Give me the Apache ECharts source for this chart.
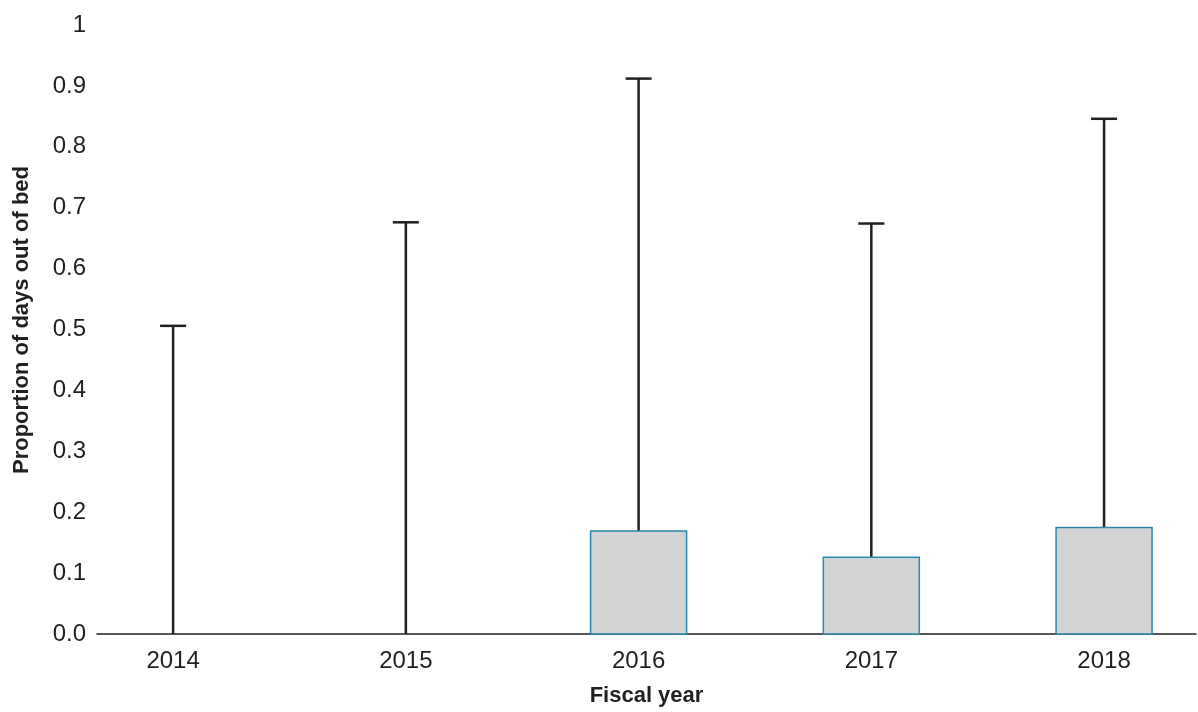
<!DOCTYPE html>
<html>
<head>
<meta charset="utf-8">
<script src="https://cdn.jsdelivr.net/npm/echarts@6/dist/echarts.min.js"></script>
<style>
html,body{margin:0;padding:0;background:#fff;}
#chart{width:1198px;height:712px;}
</style>
</head>
<body>
<div id="chart"></div>
<script>
var years = [2014, 2015, 2016, 2017, 2018];
var whiskerMax = [0.506, 0.676, 0.912, 0.674, 0.846];
var boxTop = [0, 0, 0.169, 0.126, 0.175];
var boxBottom = [0, 0, 0, 0, 0];
var yTicks = [0, 0.1, 0.2, 0.3, 0.4, 0.5, 0.6, 0.7, 0.8, 0.9, 1];

var textColor = '#231f20';
var fontFam = '"Liberation Sans", Arial, sans-serif';

var data = years.map(function (y, i) {
  return [y, boxBottom[i], boxTop[i], whiskerMax[i]];
});

var chart = echarts.init(document.getElementById('chart'), null, {renderer: 'canvas'});
chart.setOption({
  animation: false,
  backgroundColor: '#ffffff',
  grid: {left: 97, right: 2, top: 25, bottom: 76, containLabel: false},
  xAxis: {
    type: 'value',
    min: 2013.673,
    max: 2018.395,
    name: 'Fiscal year',
    nameLocation: 'middle',
    nameGap: 51,
    nameTextStyle: {fontFamily: fontFam, fontWeight: 'bold', fontSize: 22, color: textColor},
    axisLine: {show: true, lineStyle: {color: textColor, width: 1.5}},
    axisTick: {show: false},
    splitLine: {show: false},
    axisLabel: {
      customValues: years,
      margin: 15,
      fontFamily: fontFam, fontSize: 24, color: textColor,
      formatter: function (v) { return String(Math.round(v)); }
    }
  },
  yAxis: {
    type: 'value',
    min: 0,
    max: 1,
    interval: 0.1,
    axisLine: {show: false},
    axisTick: {show: false},
    splitLine: {show: false},
    axisLabel: {
      margin: 11,
      fontFamily: fontFam, fontSize: 24, color: textColor,
      formatter: function (v) {
        if (Math.abs(v - 1) < 1e-9) return '1';
        return v.toFixed(1);
      }
    }
  },
  graphic: [{
    type: 'text',
    x: 22,
    y: 320,
    rotation: Math.PI / 2,
    style: {
      text: 'Proportion of days out of bed',
      fontFamily: fontFam, fontWeight: 'bold', fontSize: 22, fill: textColor,
      align: 'center', verticalAlign: 'middle'
    }
  }],
  series: [{
    type: 'custom',
    data: data,
    encode: {x: 0, y: [1, 2, 3]},
    renderItem: function (params, api) {
      var x = api.value(0);
      var lo = api.value(1), hi = api.value(2), mx = api.value(3);
      var pLo = api.coord([x, lo]);
      var pHi = api.coord([x, hi]);
      var pMax = api.coord([x, mx]);
      var boxW = api.size([0.4125, 0])[0];
      var capW = api.size([0.112, 0])[0];
      var children = [];
      children.push({
        type: 'line',
        shape: {x1: pHi[0], y1: pHi[1], x2: pMax[0], y2: pMax[1]},
        style: {stroke: textColor, lineWidth: 2.5}
      });
      children.push({
        type: 'line',
        shape: {x1: pMax[0] - capW / 2, y1: pMax[1], x2: pMax[0] + capW / 2, y2: pMax[1]},
        style: {stroke: textColor, lineWidth: 2.5}
      });
      if (hi > lo) {
        children.push({
          type: 'rect',
          shape: {x: pHi[0] - boxW / 2, y: pHi[1], width: boxW, height: pLo[1] - pHi[1]},
          style: {fill: '#d1d3d4', stroke: '#2b87a6', lineWidth: 1.5}
        });
      }
      return {type: 'group', children: children};
    }
  }]
});
</script>
</body>
</html>
